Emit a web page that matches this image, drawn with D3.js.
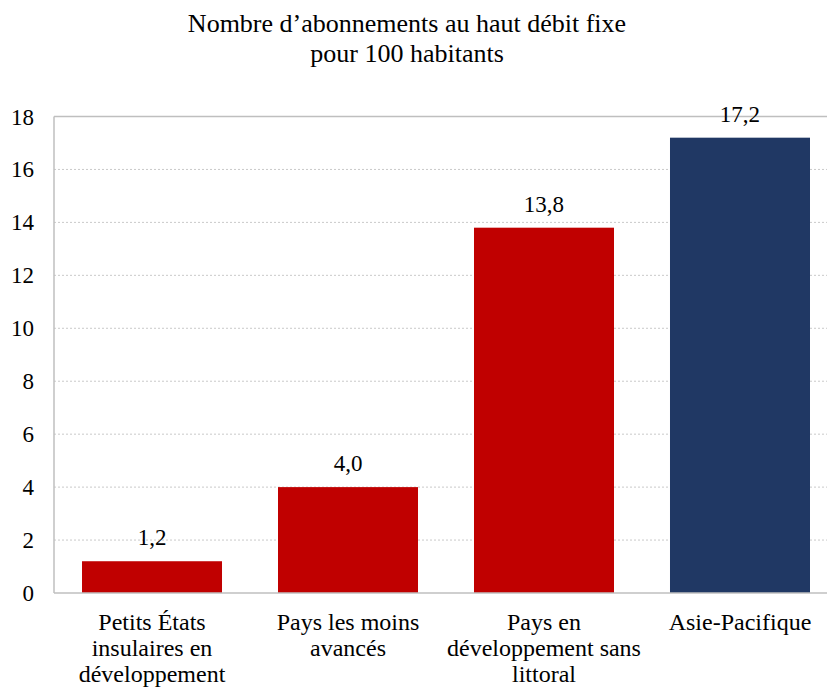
<!DOCTYPE html>
<html><head><meta charset="utf-8">
<script src="https://cdn.jsdelivr.net/npm/d3@7"></script>
</head><body style="margin:0;background:#fff">
<svg id="c" width="827" height="687" style="display:block"></svg>
<script>
const categories = ["Petits États insulaires en développement","Pays les moins avancés","Pays en développement sans littoral","Asie-Pacifique"];
const categoryLines = [["Petits États","insulaires en","développement"],["Pays les moins","avancés"],["Pays en","développement sans","littoral"],["Asie-Pacifique"]];
const values = [1.2, 4.0, 13.8, 17.2];
const barColors = ["#C00000","#C00000","#C00000","#203864"];
const yTicks = [0,2,4,6,8,10,12,14,16,18];
const titleLines = ["Nombre d\u2019abonnements au haut débit fixe","pour 100 habitants"];

const FONT = '"Liberation Serif"';
const svg = d3.select("#c");
const x = d3.scaleBand().domain(categories).range([54, 838]).paddingInner(0.2857).paddingOuter(0.1429);
const y = d3.scaleLinear().domain([0,18]).range([593, 116.5]);

// gridlines
svg.append("g").selectAll("line").data(yTicks.filter(t=>t>0 && t<18)).join("line")
  .attr("x1",54).attr("x2",827).attr("y1",d=>y(d)).attr("y2",d=>y(d))
  .attr("stroke","#c9c9c9").attr("stroke-width",1).attr("stroke-dasharray","2,2");
// top border
svg.append("line").attr("x1",54).attr("x2",827).attr("y1",y(18)).attr("y2",y(18))
  .attr("stroke","#bfbfbf").attr("stroke-width",1.5);

// bars
svg.append("g").selectAll("rect").data(values).join("rect")
  .attr("x",(d,i)=>x(categories[i])).attr("width",x.bandwidth())
  .attr("y",d=>y(d)).attr("height",d=>y(0)-y(d))
  .attr("fill",(d,i)=>barColors[i]);

// axes lines
svg.append("line").attr("x1",54).attr("x2",54).attr("y1",y(18)).attr("y2",y(0))
  .attr("stroke","#bfbfbf").attr("stroke-width",1.5);
svg.append("line").attr("x1",54).attr("x2",827).attr("y1",y(0)).attr("y2",y(0))
  .attr("stroke","#bfbfbf").attr("stroke-width",1.5);

// y tick labels
svg.append("g").selectAll("text").data(yTicks).join("text")
  .attr("x",34).attr("y",d=>y(d)).attr("dy","0.35em").attr("text-anchor","end")
  .style("font-family",FONT).style("font-size","23px").attr("fill","#000").text(d=>d);

// value labels
const fmt = d => d.toFixed(1).replace(".",",");
svg.append("g").selectAll("text").data(values).join("text")
  .attr("x",(d,i)=>x(categories[i])+x.bandwidth()/2).attr("y",d=>y(d)-16)
  .attr("text-anchor","middle").style("font-family",FONT).style("font-size","23px")
  .attr("fill","#000").text(fmt);

// category labels
const cg = svg.append("g");
categories.forEach((c,i)=>{
  const t = cg.append("text").attr("text-anchor","middle")
    .style("font-family",FONT).style("font-size","24px").attr("fill","#000");
  categoryLines[i].forEach((ln,j)=>{
    t.append("tspan").attr("x",x(c)+x.bandwidth()/2).attr("y",630+j*26).text(ln);
  });
});

// title
svg.append("g").selectAll("text").data(titleLines).join("text")
  .attr("x",407).attr("y",(d,i)=>32+i*30).attr("text-anchor","middle")
  .style("font-family",FONT).style("font-size","26px").attr("fill","#000").text(d=>d);
</script>
</body></html>
